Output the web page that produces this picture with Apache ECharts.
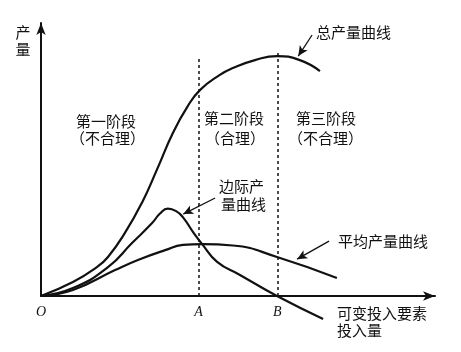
<!DOCTYPE html>
<html>
<head>
<meta charset="utf-8">
<script src="https://cdn.jsdelivr.net/npm/echarts@6/dist/echarts.min.js"></script>
<style>
    html, body { margin: 0; padding: 0; background: #fff; }
    #chart { width: 461px; height: 352px; }
</style>
</head>
<body>
<div id="chart"></div>
<script>
// Curves (x: input of the variable factor, y: output)
var totalProduct = [
    [0, 0], [0.81, 0.51], [1.42, 1.06], [1.70, 1.43], [2.13, 2.31], [2.56, 3.41],
    [2.94, 4.62], [3.35, 5.98], [3.71, 6.92], [4.04, 7.55], [4.54, 8.10], [4.87, 8.35],
    [5.43, 8.64], [5.99, 8.79], [6.57, 8.64], [7.08, 8.24]
];
var marginalProduct = [
    [0, 0], [0.81, 0.29], [1.70, 1.06], [2.31, 1.94], [2.82, 2.67], [3.02, 3.02],
    [3.22, 3.20], [3.43, 3.11], [3.60, 2.89], [3.86, 2.34], [4.09, 1.90], [4.47, 1.25],
    [5.05, 0.77], [5.99, 0], [7.16, -0.84]
];
var averageProduct = [
    [0, 0], [0.81, 0.22], [1.88, 0.95], [2.46, 1.32], [3.15, 1.68], [3.60, 1.87],
    [4.09, 1.90], [4.87, 1.85], [5.99, 1.43], [7.51, 0.66]
];

// Stage boundaries and axis labels
var stageA = 4;
var stageB = 6;
var xTickValues = [0, stageA, stageB];
var xTickLabels = ['O', 'A', 'B'];

var cjk = '"Noto Sans CJK SC", sans-serif';

var chart = echarts.init(document.getElementById('chart'));

function label(text, x, y, align) {
    return {
        type: 'text',
        x: x,
        y: y,
        style: {
            text: text,
            font: '15px ' + cjk,
            fill: '#111',
            align: align || 'left',
            verticalAlign: 'middle',
            lineHeight: 18
        }
    };
}

function arrowLine(from, to) {
    return [{ coord: from, symbol: 'none' }, { coord: to, symbol: 'arrow' }];
}

var curveStyle = { color: '#111', width: 2.2 };

chart.setOption({
    animation: false,
    backgroundColor: '#fff',
    grid: { left: 41, top: 23, width: 394, height: 273 },
    xAxis: {
        type: 'value',
        min: 0,
        max: 10,
        axisLine: {
            lineStyle: { color: '#111', width: 2 },
            symbol: ['none', 'arrow'],
            symbolSize: [7, 12]
        },
        axisTick: { show: false },
        splitLine: { show: false },
        axisLabel: {
            customValues: xTickValues,
            margin: 9,
            fontFamily: '"Liberation Serif", serif',
            fontStyle: 'italic',
            fontSize: 14,
            color: '#111',
            formatter: function (v) {
                return xTickLabels[xTickValues.indexOf(v)];
            }
        }
    },
    yAxis: {
        type: 'value',
        min: 0,
        max: 10,
        axisLine: {
            lineStyle: { color: '#111', width: 2 },
            symbol: ['none', 'arrow'],
            symbolSize: [7, 12]
        },
        axisTick: { show: false },
        axisLabel: { show: false },
        splitLine: { show: false }
    },
    graphic: [
        label('产', 23, 32, 'center'),
        label('量', 23, 49, 'center'),
        label('总产量曲线', 316, 32),
        label('第一阶段', 76, 121),
        label('（不合理）', 70, 138),
        label('第二阶段', 204, 118),
        label('（合理）', 205, 138),
        label('第三阶段', 296, 118),
        label('（不合理）', 288, 138),
        label('边际产', 219, 186),
        label('量曲线', 221, 204),
        label('平均产量曲线', 338, 241),
        label('可变投入要素', 337, 313),
        label('投入量', 337, 330)
    ],
    series: [
        {
            name: '总产量曲线',
            type: 'line',
            smooth: 0.5,
            showSymbol: false,
            lineStyle: curveStyle,
            data: totalProduct,
            markLine: {
                silent: true,
                symbolSize: [8, 10],
                label: { show: false },
                lineStyle: { color: '#111', width: 1.5, type: [3, 3] },
                data: [
                    [{ coord: [stageA, 0], symbol: 'none' }, { coord: [stageA, 8.75], symbol: 'none' }],
                    [{ coord: [stageB, 0], symbol: 'none' }, { coord: [stageB, 9.0], symbol: 'none' }]
                ]
            }
        },
        {
            name: '边际产量曲线',
            type: 'line',
            smooth: 0.5,
            clip: false,
            showSymbol: false,
            lineStyle: curveStyle,
            data: marginalProduct
        },
        {
            name: '平均产量曲线',
            type: 'line',
            smooth: 0.5,
            showSymbol: false,
            lineStyle: curveStyle,
            data: averageProduct,
            markLine: {
                silent: true,
                symbolSize: [7, 10],
                label: { show: false },
                lineStyle: { color: '#111', width: 1.3, type: 'solid' },
                data: [
                    arrowLine([6.88, 9.56], [6.53, 8.79]),
                    arrowLine([4.42, 3.59], [3.61, 3.00]),
                    arrowLine([7.31, 2.01], [6.50, 1.35])
                ]
            }
        }
    ]
});
</script>
</body>
</html>
